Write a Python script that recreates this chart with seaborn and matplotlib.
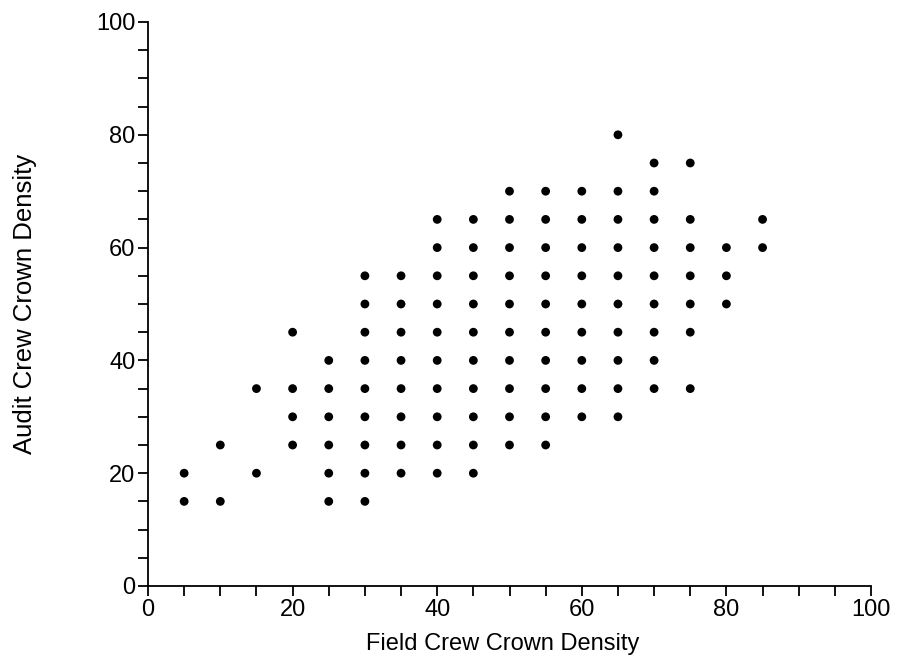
import matplotlib
matplotlib.use("Agg")
import matplotlib.pyplot as plt
import seaborn as sns
import pandas as pd
from matplotlib.ticker import MultipleLocator

field_x = [5, 10, 15, 20, 25, 30, 35, 40, 45, 50, 55, 60, 65, 70, 75, 80, 85]
audit_y = [
    [20, 15],
    [25, 15],
    [35, 20],
    [45, 35, 30, 25],
    [40, 35, 30, 25, 20, 15],
    [55, 50, 45, 40, 35, 30, 25, 20, 15],
    [55, 50, 45, 40, 35, 30, 25, 20],
    [65, 60, 55, 50, 45, 40, 35, 30, 25, 20],
    [65, 60, 55, 50, 45, 40, 35, 30, 25, 20],
    [70, 65, 60, 55, 50, 45, 40, 35, 30, 25],
    [70, 65, 60, 55, 50, 45, 40, 35, 30, 25],
    [70, 65, 60, 55, 50, 45, 40, 35, 30],
    [80, 70, 65, 60, 55, 50, 45, 40, 35, 30],
    [75, 70, 65, 60, 55, 50, 45, 40, 35],
    [75, 65, 60, 55, 50, 45, 35],
    [60, 55, 50],
    [65, 60],
]

xs, ys = [], []
for fx, col in zip(field_x, audit_y):
    for ay in col:
        xs.append(fx)
        ys.append(ay)
df = pd.DataFrame({"Field": xs, "Audit": ys})

sns.set_style("ticks")
plt.rcParams['font.family'] = ['Liberation Sans', 'DejaVu Sans']

fig = plt.figure(figsize=(9, 6.66), dpi=100)
ax = fig.add_axes([148/900, 1-586/666, (871-148)/900, (586-22)/666])
sns.scatterplot(data=df, x="Field", y="Audit", ax=ax, color="black", s=40,
                edgecolor="none", legend=False)

ax.set_xlim(0, 100)
ax.set_ylim(0, 100)
ax.xaxis.set_major_locator(MultipleLocator(20))
ax.xaxis.set_minor_locator(MultipleLocator(5))
ax.yaxis.set_major_locator(MultipleLocator(20))
ax.yaxis.set_minor_locator(MultipleLocator(5))
ax.tick_params(axis='both', which='both', direction='out', length=7, width=1.3,
               color='black', labelsize=17, labelcolor='black', pad=2)
for side in ['top', 'right']:
    ax.spines[side].set_visible(False)
for side in ['left', 'bottom']:
    ax.spines[side].set_color('black')
    ax.spines[side].set_linewidth(1.3)

ax.set_xlabel("Field Crew Crown Density", fontsize=17, color='black')
ax.set_ylabel("Audit Crew Crown Density", fontsize=18.5, color='black')
ax.xaxis.set_label_coords(0.49, -0.083)
ax.yaxis.set_label_coords(-0.154, 0.5)

fig.savefig("out.png", dpi=100)
